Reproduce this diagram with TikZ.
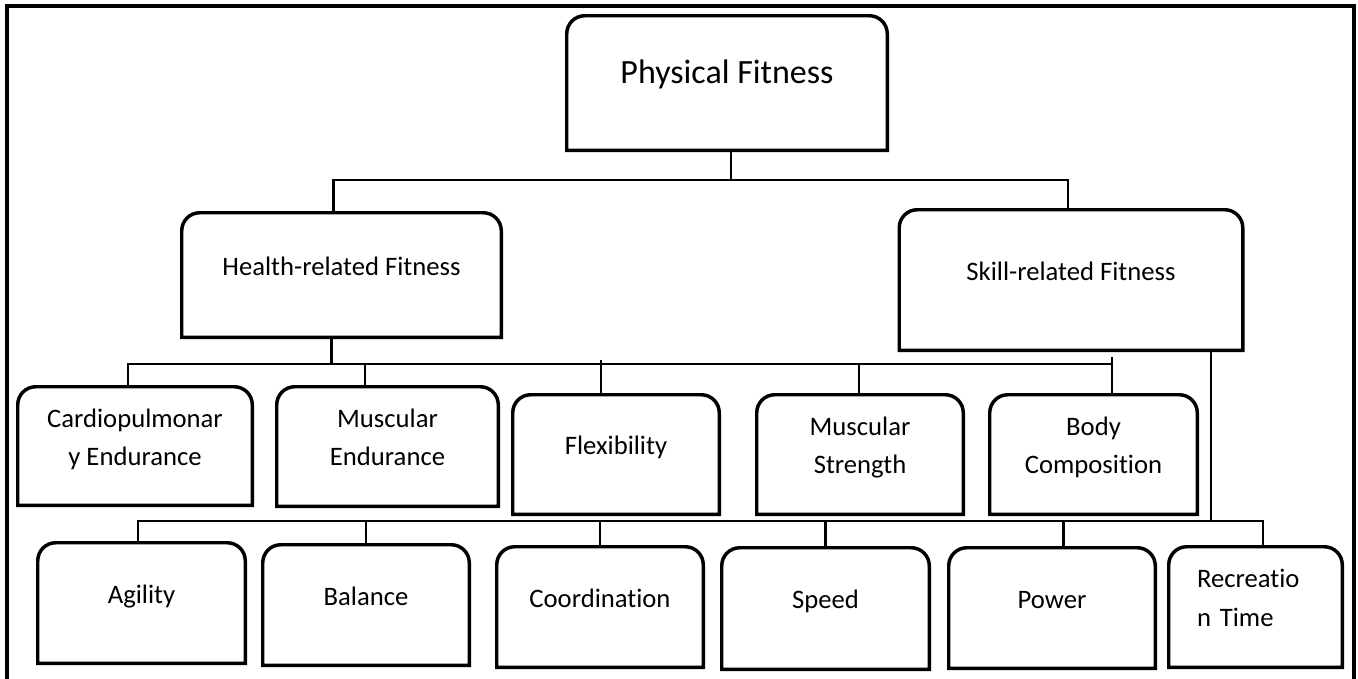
\documentclass[tikz,border=0pt]{standalone}
\usepackage{fontspec}
\setmainfont{Carlito}[Ligatures=NoCommon]
\begin{document}
\begin{tikzpicture}[x=0.75pt,y=0.75pt,
  bx/.style n args={2}{minimum width=#1*0.75pt, minimum height=#2*0.75pt, inner sep=0pt, draw=none, align=center, font=\fontsize{20}{28.5}\selectfont},
  one/.style={text height=15pt, text depth=15pt},
  two/.style={text height=43.5pt, text depth=15pt},
  boxline/.style={line width=2.6pt},
  conn/.style={line width=1.7pt},
  frameline/.style={line width=2.3pt}
]
\useasboundingbox (0,0) rectangle (1358,-678);
\draw[frameline] (7,-700) -- (7,-6) -- (1354,-6) -- (1354,-700);

% boxes
\node[bx={320}{134}, text height=19pt, text depth=19pt, font=\fontsize{25.5}{30}\selectfont] (pf) at (727,-83) {Physical Fitness};
\node[bx={319}{124}, one] (hr) at (341.5,-275) {Health-related Fitness};
\node[bx={343}{140}, one] (sk) at (1071,-280) {Skill-related Fitness};

\node[bx={234}{118}, two] (cp) at (135,-446) {Cardiopulmonar\\y Endurance};
\node[bx={221}{119}, two] (me) at (387.5,-446.5) {Muscular\\Endurance};
\node[bx={206}{119}, one] (fl) at (616,-454.5) {Flexibility};
\node[bx={206}{119}, two] (ms) at (860,-454.5) {Muscular\\Strength};
\node[bx={207}{119}, two] (bc) at (1093.5,-454.5) {Body\\Composition};

\node[bx={207}{120}, one] (ag) at (141.5,-603) {Agility};
\node[bx={206}{120}, one] (ba) at (366,-605) {Balance};
\node[bx={206}{120}, one] (co) at (600,-607) {Coordination};
\node[bx={207}{121}, one] (sp) at (825.5,-608.5) {Speed};
\node[bx={206}{120}, one] (po) at (1052,-608) {Power};
\node[bx={173}{120}, align=left, text width=117*0.75pt, inner xsep=21pt, text height=15pt, text depth=44.25pt, font=\fontsize{20}{29.25}\selectfont] (rt) at (1255.5,-607) {Recreatio\\n Time};

\foreach \n in {pf,hr,sk,cp,me,fl,ms,bc,ag,ba,co,sp,po,rt}
  \draw[boxline] (\n.south west) -- ([yshift=-13.5pt]\n.north west)
    arc[start angle=180,end angle=90,radius=13.5pt]
    -- ([xshift=-13.5pt]\n.north east)
    arc[start angle=90,end angle=0,radius=13.5pt]
    -- (\n.south east) -- cycle;

% level 1 connectors
\coordinate (b1) at (731,-180);
\draw[conn] ([xshift=3pt]pf.south) -- ([xshift=3pt]pf.south |- b1);
\draw[conn] ([xshift=-6pt]hr.north) |- (b1) -| ([xshift=-2.25pt]sk.north);

% level 2 connectors
\coordinate (b2) at (600,-364);
\draw[conn] ([xshift=-7.5pt]hr.south) -- ([xshift=-7.5pt]hr.south |- b2);
\draw[conn] ([xshift=-5.25pt]cp.north) |- ([xshift=13.9pt]bc.north |- b2) -- ([xshift=13.9pt]bc.north);
\draw[conn] ([xshift=13.9pt]bc.north |- b2) -- ++(0,7);
\draw[conn] ([xshift=-16.9pt]me.north) -- ([xshift=-16.9pt]me.north |- b2);
\draw[conn] ([xshift=-11.25pt]fl.north) -- ([xshift=-11.25pt]fl.north |- b2) -- ++(0,4);
\draw[conn] ([xshift=-0.75pt]ms.north) -- ([xshift=-0.75pt]ms.north |- b2);

% level 3 connectors
\coordinate (b3) at (600,-521);
\draw[conn] ([xshift=105pt]sk.south) -- ([xshift=105pt]sk.south |- b3);
\draw[conn] ([xshift=-2.6pt]ag.north) |- ([xshift=5.6pt]rt.north |- b3) -- ([xshift=5.6pt]rt.north);
\draw[conn] (ba.north) -- (ba.north |- b3);
\draw[conn] (co.north) -- (co.north |- b3);
\draw[conn] (sp.north) -- (sp.north |- b3);
\draw[conn] ([xshift=8.6pt]po.north) -- ([xshift=8.6pt]po.north |- b3);
\end{tikzpicture}
\end{document}
